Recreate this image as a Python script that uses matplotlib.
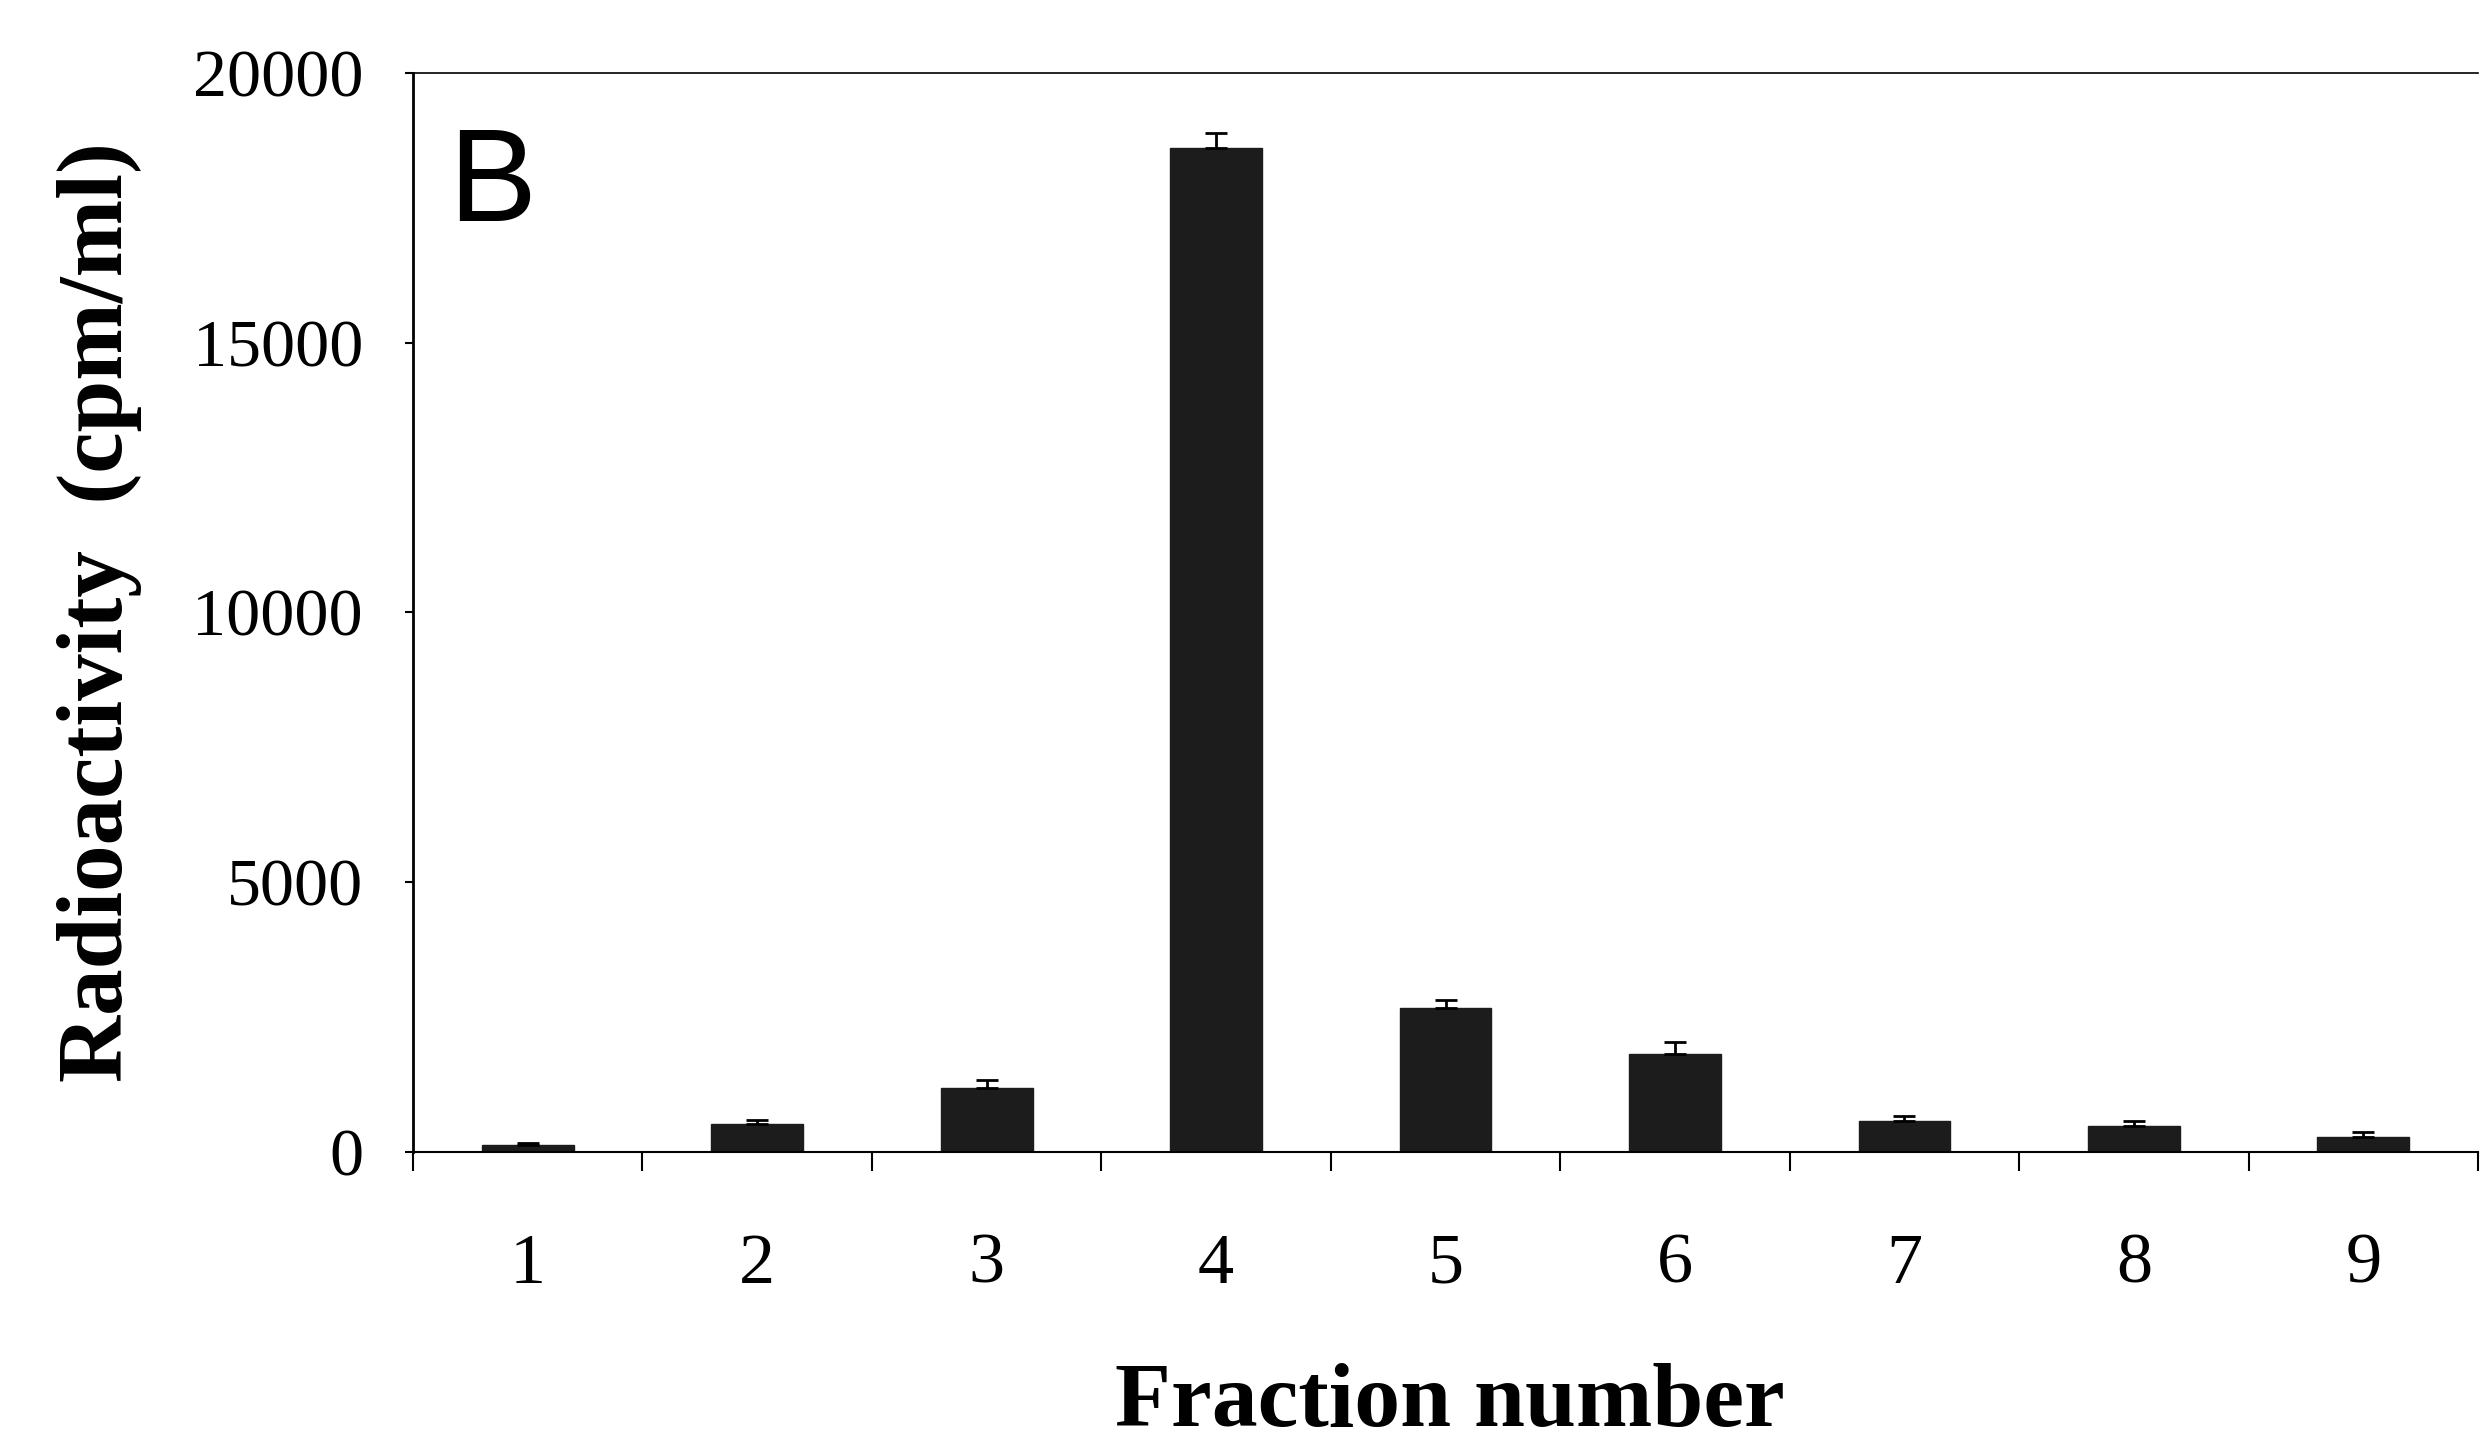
import matplotlib.pyplot as plt
import numpy as np

fractions = ["1", "2", "3", "4", "5", "6", "7", "8", "9"]
cpm = [130, 525, 1190, 18610, 2660, 1820, 575, 480, 285]
cpm_err = [30, 60, 150, 280, 160, 220, 100, 90, 80]

fig = plt.figure(figsize=(24.82, 14.43), dpi=100)
ax = fig.add_axes([0.1664, 0.2017, 0.832, 0.7477])

x = np.arange(1, len(fractions) + 1)
ax.bar(x, cpm, width=0.4, color='#1c1c1c', edgecolor='#1c1c1c', zorder=2)
ax.errorbar(x, cpm, yerr=[np.zeros(len(cpm)), cpm_err], fmt='none',
            ecolor='black', elinewidth=2, capsize=8, capthick=2, zorder=3)

ax.set_xlim(0.5, 9.5)
ax.set_ylim(0, 20000)
ax.set_yticks([0, 5000, 10000, 15000, 20000])
ax.set_yticklabels(["0", "5000", "10000", "15000", "20000"])

# labels at centers, tick marks at the boundaries
ax.set_xticks(x)
ax.set_xticklabels(fractions)
ax.set_xticks(np.arange(0.5, 9.6, 1.0), minor=True)
ax.tick_params(axis='x', which='major', length=0, pad=58)
ax.tick_params(axis='x', which='minor', length=14, width=1.5, direction='out')
ax.tick_params(axis='y', which='major', length=6, width=1.5, direction='out', pad=30)

for lab in ax.get_xticklabels():
    lab.set_fontfamily('Liberation Serif')
    lab.set_fontsize(52)
for lab in ax.get_yticklabels():
    lab.set_fontfamily('Liberation Serif')
    lab.set_fontsize(49)

ax.spines['right'].set_visible(False)
ax.spines['top'].set_linewidth(1.2)
ax.spines['left'].set_linewidth(2)
ax.spines['bottom'].set_linewidth(1.5)

ax.text(0.017, 0.952, "B", transform=ax.transAxes, ha='left', va='top',
        fontsize=95, family='Liberation Sans')

fig.text(100 / 2482, 1 - 612 / 1443, "Radioactivity  (cpm/ml)", rotation=90,
         ha='center', va='center', fontsize=67, fontweight='bold',
         family='Liberation Serif')
fig.text(1450 / 2482, 1 - 1404 / 1443, "Fraction number", ha='center',
         va='center', fontsize=66, fontweight='bold', family='Liberation Serif')

fig.savefig("out.png", dpi=100)
